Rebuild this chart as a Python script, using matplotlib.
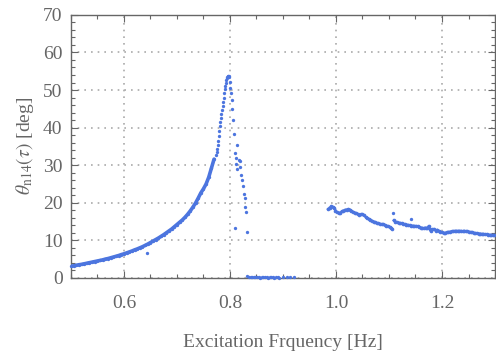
import matplotlib.pyplot as plt
from matplotlib.ticker import MultipleLocator

# rising branch up to the resonance peak
rise_f = [0.500, 0.505, 0.510, 0.515, 0.520, 0.525, 0.530, 0.535, 0.540, 0.545,
          0.550, 0.555, 0.560, 0.565, 0.570, 0.575, 0.580, 0.585, 0.590, 0.595,
          0.600, 0.605, 0.610, 0.615, 0.620, 0.625, 0.630, 0.635, 0.640, 0.645,
          0.650, 0.655, 0.660, 0.665, 0.670, 0.675, 0.680, 0.685, 0.690, 0.695,
          0.700, 0.705, 0.710, 0.715, 0.720, 0.725, 0.730, 0.735, 0.740, 0.745,
          0.750, 0.755, 0.760, 0.765, 0.770, 0.773, 0.775, 0.776, 0.777, 0.778,
          0.779, 0.780, 0.781, 0.782, 0.783, 0.784, 0.785, 0.786, 0.787, 0.788,
          0.789, 0.790, 0.791, 0.792, 0.793, 0.794, 0.795, 0.796, 0.797, 0.798,
          0.799]
rise_y = [3.1, 3.2, 3.35, 3.5, 3.6, 3.75, 3.9, 4.05, 4.2, 4.35,
          4.5, 4.65, 4.8, 5.0, 5.15, 5.35, 5.55, 5.75, 5.95, 6.2,
          6.4, 6.65, 6.9, 7.15, 7.45, 7.7, 8.0, 8.3, 8.65, 9.0,
          9.4, 9.8, 10.2, 10.6, 11.05, 11.5, 12.0, 12.5, 13.0, 13.6,
          14.2, 14.8, 15.4, 16.1, 16.9, 17.8, 18.8, 19.9, 21.2, 22.6,
          23.7, 25.0, 26.8, 29.2, 31.6, 32.8, 33.6, 34.2, 35.3, 36.4,
          37.7, 39.1, 40.3, 41.4, 42.5, 43.6, 44.7, 45.8, 46.9, 48.0,
          49.2, 50.3, 51.2, 52.0, 52.6, 53.1, 53.4, 53.6, 53.7, 53.7,
          53.4]

# scattered points after the jump down, plus isolated outliers
fall_f = [0.800, 0.801, 0.802, 0.803, 0.804, 0.8055, 0.807, 0.809, 0.8105, 0.812,
          0.814, 0.8135, 0.817, 0.819, 0.819, 0.821, 0.8225, 0.825, 0.826, 0.8275,
          0.829, 0.830, 0.809, 0.832, 0.643, 1.1075, 1.141]
fall_y = [52.2, 50.5, 49.2, 47.4, 45.0, 42.0, 38.2, 33.3, 30.3, 31.8,
          35.3, 29.0, 31.4, 31.0, 29.4, 27.4, 26.1, 24.5, 22.4, 21.2,
          18.8, 17.6, 13.4, 12.2, 6.7, 17.2, 15.6]

# near-zero cluster
low_f = [0.833, 0.836, 0.839, 0.842, 0.845, 0.848, 0.851, 0.854, 0.857, 0.860,
         0.863, 0.866, 0.869, 0.872, 0.875, 0.878, 0.881, 0.884, 0.887, 0.890,
         0.893, 0.901, 0.907, 0.914, 0.920]
low_y = [0.4, 0.3, 0.2, 0.35, 0.25, 0.15, 0.3, 0.2, 0.1, 0.25,
         0.15, 0.3, 0.2, 0.1, 0.25, 0.15, 0.2, 0.1, 0.2, 0.15,
         0.1, 0.2, 0.15, 0.2, 0.15]

# upper branch beyond 0.98 Hz (two segments either side of the small jump)
high1_f = [0.985, 0.988, 0.991, 0.994, 0.997, 0.999, 1.002, 1.005, 1.008, 1.011,
           1.014, 1.017, 1.020, 1.023, 1.026, 1.029, 1.032, 1.035, 1.038, 1.041,
           1.044, 1.047, 1.050, 1.053, 1.056, 1.059, 1.062, 1.065, 1.068, 1.071,
           1.074, 1.077, 1.080, 1.083, 1.086, 1.089, 1.092, 1.095, 1.098, 1.101,
           1.104, 1.106]
high1_y = [18.3, 18.7, 19.0, 18.9, 18.7, 17.9, 17.5, 17.2, 17.4, 17.7,
           17.9, 18.1, 18.2, 18.3, 18.2, 17.9, 17.6, 17.4, 17.2, 17.0,
           16.8, 16.9, 16.9, 16.7, 16.2, 15.9, 15.7, 15.5, 15.2, 15.0,
           14.8, 14.6, 14.5, 14.4, 14.3, 14.3, 14.1, 13.9, 13.8, 13.6,
           13.3, 13.0]
high2_f = [1.109, 1.112, 1.115, 1.118, 1.121, 1.124, 1.127, 1.130, 1.133, 1.136,
           1.139, 1.142, 1.145, 1.148, 1.151, 1.154, 1.157, 1.160, 1.163, 1.166,
           1.169, 1.172, 1.175, 1.177, 1.179, 1.182, 1.185, 1.188, 1.191, 1.194,
           1.197, 1.200, 1.203, 1.206, 1.209, 1.212, 1.215, 1.218, 1.221, 1.224,
           1.227, 1.230, 1.233, 1.236, 1.239, 1.242, 1.245, 1.248, 1.251, 1.254,
           1.257, 1.260, 1.263, 1.266, 1.269, 1.272, 1.275, 1.278, 1.281, 1.284,
           1.287, 1.290, 1.293, 1.296, 1.299]
high2_y = [15.3, 15.0, 14.8, 14.7, 14.6, 14.5, 14.4, 14.3, 14.2, 14.1,
           14.0, 13.9, 13.9, 13.8, 13.8, 13.7, 13.6, 13.4, 13.3, 13.2,
           13.4, 13.2, 13.8, 12.9, 12.4, 12.9, 13.0, 12.6, 12.8, 12.5,
           12.3, 12.1, 11.9, 12.0, 12.1, 12.2, 12.3, 12.4, 12.4, 12.5,
           12.5, 12.5, 12.5, 12.5, 12.4, 12.5, 12.4, 12.4, 12.3, 12.2,
           12.1, 12.0, 11.9, 11.9, 11.8, 11.8, 11.7, 11.7, 11.6, 11.6,
           11.5, 11.5, 11.4, 11.4, 11.4]

plt.rcParams['font.family'] = ['Liberation Serif', 'DejaVu Serif']
plt.rcParams['mathtext.fontset'] = 'stix'

gray = '#666666'
blue = '#4C75DF'

fig = plt.figure(figsize=(4.96, 3.54), dpi=100)
ax = fig.add_axes([0.143, 0.215, 0.855, 0.743])

# densely sampled stretches read as a solid band
n_dense = 55
ax.plot(rise_f[:n_dense], rise_y[:n_dense], '-', lw=2.6, color=blue,
        solid_capstyle='round', zorder=3)
for f, y in [(high1_f, high1_y), (high2_f, high2_y)]:
    ax.plot(f, y, '-', lw=1.8, color=blue, alpha=0.9, zorder=3)
    ax.plot(f, y, 'o', ms=2.6, mew=0, color=blue, clip_on=False, zorder=3)
for f, y in [(rise_f, rise_y), (fall_f, fall_y), (low_f, low_y)]:
    ax.plot(f, y, 'o', ms=2.4, mew=0, color=blue, clip_on=False, zorder=3)

ax.set_xlim(0.5, 1.3)
ax.set_ylim(0, 70)
ax.xaxis.set_minor_locator(MultipleLocator(0.05))
ax.yaxis.set_major_locator(MultipleLocator(10))
ax.yaxis.set_minor_locator(MultipleLocator(2))
ax.set_xticks([0.6, 0.8, 1.0, 1.2])
ax.set_xticklabels(['0.6', '0.8', '1.0', '1.2'])

ax.grid(True, which='major', color='#aaaaaa', linestyle=(0, (1, 3)), linewidth=1.2)
ax.set_axisbelow(True)
for s in ax.spines.values():
    s.set_color(gray)
    s.set_linewidth(1.0)
ax.tick_params(which='both', direction='in', top=True, right=True, color=gray,
               labelcolor=gray, labelsize=14, width=0.8)
ax.tick_params(which='major', length=5)
ax.tick_params(axis='x', which='major', pad=12)
ax.tick_params(axis='y', which='major', pad=6)
ax.tick_params(which='minor', length=3)

ax.set_xlabel('Excitation Frquency [Hz]', fontsize=14, color=gray, labelpad=16)
ax.set_ylabel(r'$\theta_{\rm n14}(\tau)$ [deg]', fontsize=14, color=gray, labelpad=5)

plt.savefig('out.png')
